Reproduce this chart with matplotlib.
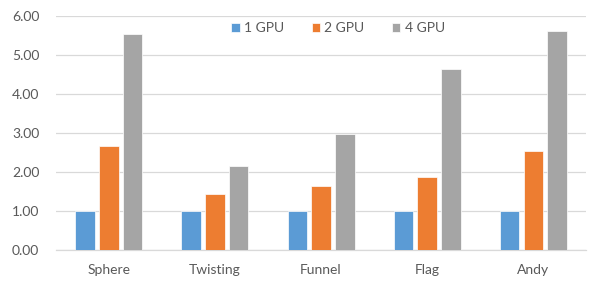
import numpy as np
import matplotlib.pyplot as plt

plt.rcParams['font.family'] = ['Lato', 'DejaVu Sans']

categories = ["Sphere", "Twisting", "Funnel", "Flag", "Andy"]
series_names = ["1 GPU", "2 GPU", "4 GPU"]
gpu1 = [1.00, 1.00, 1.00, 1.00, 1.00]
gpu2 = [2.67, 1.43, 1.64, 1.86, 2.55]
gpu4 = [5.54, 2.16, 2.98, 4.65, 5.62]
yticks = [0, 1, 2, 3, 4, 5, 6]

colors = ["#5B9BD5", "#ED7D31", "#A5A5A5"]
text_color = "#595959"
grid_color = "#D9D9D9"

fig = plt.figure(figsize=(5.89, 2.82), dpi=100)
ax = fig.add_axes([0.095, 0.1135, 0.9, 0.8295])

x = np.arange(len(categories))
width = 0.18
step = 0.226
for i, (vals, name) in enumerate(zip([gpu1, gpu2, gpu4], series_names)):
    ax.bar(x + (i - 1) * step, vals, width, color=colors[i], label=name,
           edgecolor="white", linewidth=0.5, zorder=3)

ax.set_xlim(-0.5, len(categories) - 0.5)
ax.set_ylim(0, 6)
ax.set_yticks(yticks)
ax.set_yticklabels([f"{v:.2f}" for v in yticks])
ax.set_xticks(x)
ax.set_xticklabels(categories)

ax.grid(axis="y", color=grid_color, linewidth=0.9, zorder=0)
for s in ["top", "right", "left"]:
    ax.spines[s].set_visible(False)
ax.spines["bottom"].set_color(grid_color)
ax.spines["bottom"].set_linewidth(0.9)
ax.tick_params(axis="both", length=0, colors=text_color, labelsize=10)
ax.tick_params(axis="x", pad=10)
ax.tick_params(axis="y", pad=12)

fig.legend(loc="center", bbox_to_anchor=(338 / 589, 1 - 28 / 282), ncol=3,
           frameon=False, fontsize=10, labelcolor=text_color,
           handlelength=0.6, handleheight=0.6, handletextpad=0.3,
           columnspacing=2.0)

fig.savefig("out.png", dpi=100)
